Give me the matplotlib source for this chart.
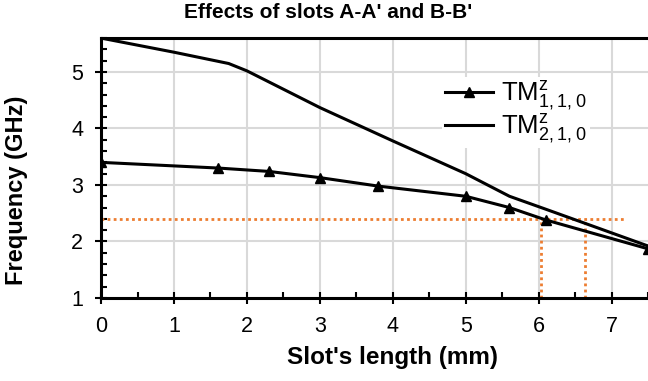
import matplotlib
matplotlib.use("Agg")
import matplotlib.pyplot as plt
from matplotlib.ticker import MultipleLocator

# data
slot_110 = [0, 1.6, 2.3, 3.0, 3.8, 5.0, 5.6, 6.1, 7.5]
freq_110 = [3.4, 3.3, 3.24, 3.13, 2.98, 2.8, 2.6, 2.38, 1.87]

slot_210 = [0, 1.0, 1.75, 2.0, 3.0, 4.0, 5.0, 5.6, 6.1, 7.5]
freq_210 = [5.6, 5.35, 5.15, 5.02, 4.37, 3.78, 3.2, 2.8, 2.57, 1.92]

ref_freq = 2.4
ref_slots = [6.03, 6.63]
ref_end = 7.17

plt.rcParams['font.family'] = ['Liberation Sans', 'DejaVu Sans']
plt.rcParams['mathtext.fontset'] = 'custom'
plt.rcParams['mathtext.rm'] = 'Lato'

fig = plt.figure(figsize=(6.48, 3.81), dpi=100)
ax = fig.add_axes([0.156, 0.218, 0.844, 0.682])

orange = '#ED7D31'
ax.plot([0, ref_end], [ref_freq, ref_freq], color=orange, lw=2, ls=(0, (1, 1.2)), zorder=2)
for xs in ref_slots:
    ax.plot([xs, xs], [1, ref_freq], color=orange, lw=2, ls=(0, (1, 1.2)), zorder=2)

ax.plot(slot_110, freq_110, color='black', lw=2.2, marker='^', markersize=7,
        label=r'$\mathregular{TM^z_{1,1,0}}$', zorder=3)
ax.plot(slot_210, freq_210, color='black', lw=2.2,
        label=r'$\mathregular{TM^z_{2,1,0}}$', zorder=3)

ax.set_xlim(0, 7.5)
ax.set_ylim(1, 5.6)
ax.xaxis.set_major_locator(MultipleLocator(1))
ax.xaxis.set_minor_locator(MultipleLocator(0.5))
ax.yaxis.set_major_locator(MultipleLocator(1))
ax.yaxis.set_minor_locator(MultipleLocator(0.2))
ax.grid(True, which='major', color='#d9d9d9', lw=1.5, zorder=0)
ax.set_axisbelow(True)

ax.tick_params(which='major', direction='inout', length=8, width=1.5, labelsize=15.5)
ax.tick_params(axis='x', which='major', pad=9)
ax.tick_params(axis='y', which='major', pad=9)
ax.tick_params(which='minor', direction='in', length=4, width=1.5)

for side in ['left', 'bottom', 'top']:
    ax.spines[side].set_linewidth(2.2)
ax.spines['right'].set_visible(False)

fig.text(0.506, 0.968, "Effects of slots A-A' and B-B'", fontsize=15, fontweight='bold',
         ha='center', va='center')
ax.set_xlabel("Slot's length (mm)", fontsize=17.5, fontweight='bold')
ax.xaxis.set_label_coords(0.532, -0.185)
ax.set_ylabel("Frequency (GHz)", fontsize=17, fontweight='bold')
ax.yaxis.set_label_coords(-0.133, 0.415)

leg = ax.legend(loc='upper left', bbox_to_anchor=(0.6, 0.9), fontsize=18.5, frameon=True,
                fancybox=False, edgecolor='none', facecolor='white', framealpha=1,
                handlelength=1.9, handletextpad=0.3, labelspacing=0.0, borderpad=0.1)

fig.savefig('out.png', dpi=100)
